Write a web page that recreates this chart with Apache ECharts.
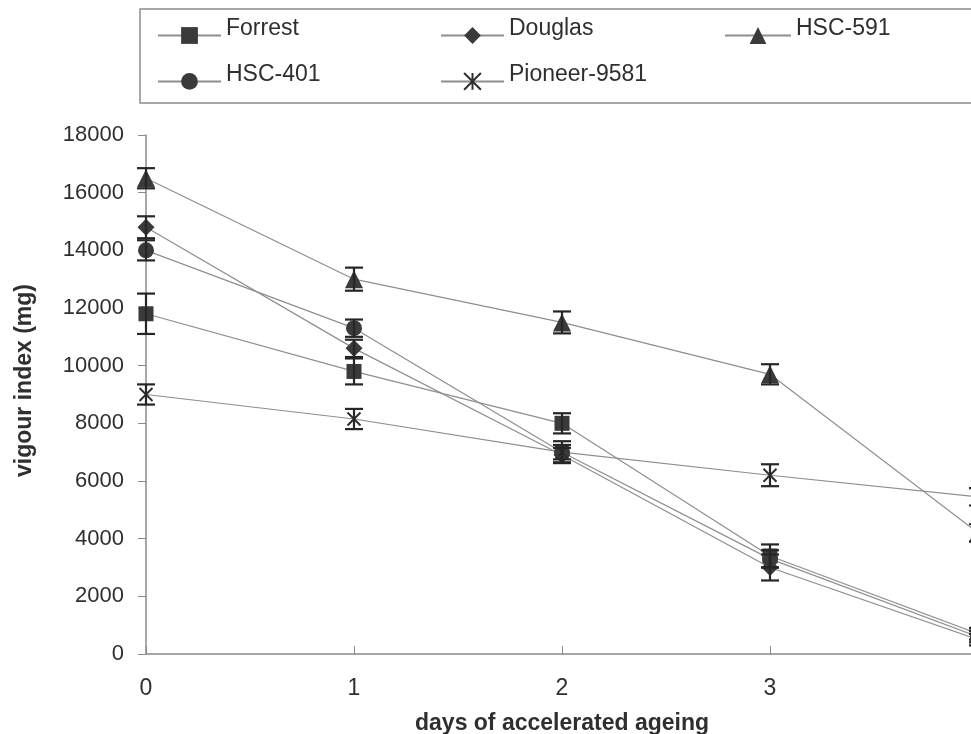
<!DOCTYPE html>
<html>
<head>
<meta charset="utf-8">
<script src="https://cdn.jsdelivr.net/npm/echarts@6/dist/echarts.min.js"></script>
<style>
  html, body { margin: 0; padding: 0; background: #fff; }
  #chart { width: 971px; height: 734px; }
</style>
</head>
<body>
<div id="chart"></div>
<script>
// days of accelerated ageing
const days = [0, 1, 2, 3, 4]

// vigour index (mg)
const forrest = [11800, 9800, 8000, 3400, 700]
const douglas = [14800, 10600, 6900, 3000, 500]
const hsc591 = [16500, 13000, 11500, 9700, 4200]
const hsc401 = [14000, 11300, 7000, 3300, 600]
const pioneer = [9000, 8150, 7000, 6200, 5450]

// error bars (+/-)
const forrestErr = [700, 450, 350, 400, 200]
const douglasErr = [380, 300, 250, 450, 200]
const hsc591Err = [350, 400, 380, 350, 300]
const hsc401Err = [350, 300, 250, 300, 200]
const pioneerErr = [350, 350, 380, 380, 300]

const yTicks = [0, 2000, 4000, 6000, 8000, 10000, 12000, 14000, 16000, 18000]

const FONT = 'Liberation Sans, Arial, sans-serif'
const INK = '#2f2f2f'
const LINE = '#8e8e8e'

const asterisk = 'path://M0,0L10,10M10,0L0,10M5,0L5,10'

const defs = [
  { name: 'Forrest', data: forrest, err: forrestErr, symbol: 'rect', size: 15 },
  { name: 'Douglas', data: douglas, err: douglasErr, symbol: 'diamond', size: 17 },
  { name: 'HSC-591', data: hsc591, err: hsc591Err, symbol: 'triangle', size: 18 },
  { name: 'HSC-401', data: hsc401, err: hsc401Err, symbol: 'circle', size: 16 },
  { name: 'Pioneer-9581', data: pioneer, err: pioneerErr, symbol: asterisk, size: 13 },
]

const lineSeries = defs.map(d => ({
  name: d.name,
  type: 'line',
  data: days.map((x, i) => [x, d.data[i]]),
  symbol: d.symbol,
  symbolSize: d.size,
  showAllSymbol: true,
  clip: false,
  z: 3,
  lineStyle: { color: LINE, width: 1.2 },
  itemStyle: d.symbol === asterisk
    ? { color: '#fff', borderColor: INK, borderWidth: 2 }
    : { color: '#3a3a3a', borderWidth: 0 },
}))

const errSeries = defs.map(d => ({
  name: d.name + ' err',
  type: 'custom',
  z: 4,
  clip: false,
  data: days.map((x, i) => [x, d.data[i] - d.err[i], d.data[i] + d.err[i]]),
  renderItem: (params, api) => {
    const lo = api.coord([api.value(0), api.value(1)])
    const hi = api.coord([api.value(0), api.value(2)])
    const w = 9
    const style = { stroke: '#262626', lineWidth: 2.2 }
    return {
      type: 'group',
      children: [
        { type: 'line', shape: { x1: lo[0], y1: lo[1], x2: hi[0], y2: hi[1] }, style },
        { type: 'line', shape: { x1: lo[0] - w, y1: lo[1], x2: lo[0] + w, y2: lo[1] }, style },
        { type: 'line', shape: { x1: hi[0] - w, y1: hi[1], x2: hi[0] + w, y2: hi[1] }, style },
      ],
    }
  },
}))

// legend text sits a little above its marker in the original
const legendBase = {
  orient: 'vertical',
  top: 12,
  itemWidth: 63,
  itemHeight: 21,
  itemGap: 19,
  selectedMode: false,
  formatter: name => '{t|' + name + '}',
  textStyle: {
    fontFamily: FONT, fontSize: 23, color: INK,
    rich: { t: { fontFamily: FONT, fontSize: 23, color: INK, padding: [0, 0, 14, 0] } },
  },
}

const chart = echarts.init(document.getElementById('chart'), null, { renderer: 'canvas' })

chart.setOption({
  animation: false,
  backgroundColor: '#fff',
  grid: { left: 146, top: 135, width: 832, height: 519, containLabel: false, outerBoundsMode: 'none' },
  legend: [
    { ...legendBase, left: 152, data: ['Forrest', 'HSC-401'] },
    { ...legendBase, left: 435, data: ['Douglas', 'Pioneer-9581'] },
    { ...legendBase, left: 719, itemWidth: 66, data: ['HSC-591'] },
  ],
  graphic: [{
    type: 'rect',
    shape: { x: 140, y: 9, width: 900, height: 94 },
    style: { fill: 'none', stroke: '#8c8c8c', lineWidth: 1.5 },
    silent: true,
  }],
  xAxis: {
    type: 'value',
    min: 0,
    max: 4,
    interval: 1,
    name: 'days of accelerated ageing',
    nameLocation: 'middle',
    nameGap: 58,
    nameTextStyle: { fontFamily: FONT, fontSize: 23, fontWeight: 'bold', color: INK },
    axisLine: { lineStyle: { color: '#8a8a8a', width: 1.5 } },
    axisTick: { show: true, inside: true, length: 8, lineStyle: { color: '#8a8a8a' } },
    axisLabel: { fontFamily: FONT, fontSize: 23, color: INK, margin: 23 },
    splitLine: { show: false },
  },
  yAxis: {
    type: 'value',
    min: yTicks[0],
    max: yTicks[yTicks.length - 1],
    interval: 2000,
    name: 'vigour index (mg)',
    nameLocation: 'middle',
    nameGap: 110,
    nameTextStyle: { fontFamily: FONT, fontSize: 23, fontWeight: 'bold', color: INK, padding: [0, 0, 0, 28] },
    axisLine: { show: true, lineStyle: { color: '#8a8a8a', width: 1.5 } },
    axisTick: { show: true, length: 8, lineStyle: { color: '#8a8a8a' } },
    axisLabel: { fontFamily: FONT, fontSize: 22, color: INK, margin: 22, formatter: v => String(v) },
    splitLine: { show: false },
  },
  series: [...lineSeries, ...errSeries],
})
</script>
</body>
</html>
